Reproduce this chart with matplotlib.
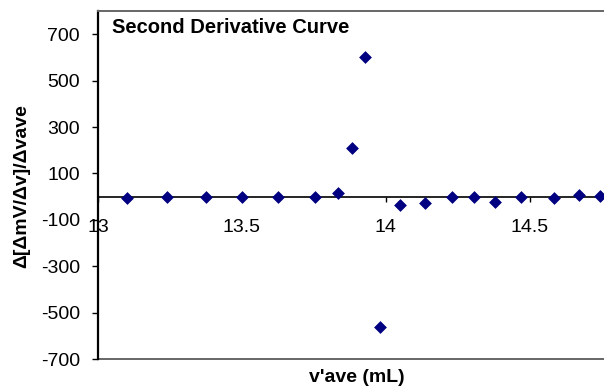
import numpy as np
import matplotlib
matplotlib.use('Agg')  # no display
import matplotlib.pyplot as plt

# values
v_ave = [13.10, 13.24, 13.375, 13.50, 13.625, 13.755, 13.835, 13.881, 13.927,
         13.981, 14.05, 14.135, 14.23, 14.305, 14.38, 14.47, 14.585, 14.67, 14.745]
d2 = [-7, -1, -1, -1, -1, -1, 15, 208, 600,
      -564, -35, -27, -1, -1, -22, 0, -7, 8, 2]
x_ticks = [13, 13.5, 14, 14.5]
x_tick_labels = ['13', '13.5', '14', '14.5']
y_ticks = [-700, -500, -300, -100, 100, 300, 500, 700]

plt.rcParams['font.family'] = ['Liberation Sans', 'DejaVu Sans']
plt.rcParams['axes.unicode_minus'] = False  # plain hyphen like Excel

W, H = 604, 387
fig = plt.figure(figsize=(W / 100, H / 100), dpi=100)
# plot area runs slightly past the right edge, like the cropped Excel chart
ax = fig.add_axes([98 / W, 1 - 359 / H, (616 - 98) / W, (359 - 11) / H])

ax.scatter(v_ave, d2, marker='D', s=36, color='#000080', edgecolors='#000080',
           linewidths=0.5, zorder=3, clip_on=False)

ax.set_xlim(13, 14.8)
ax.set_ylim(-700, 800)
ax.set_xticks(x_ticks)
ax.set_xticklabels(x_tick_labels)
ax.set_yticks(y_ticks)

# x axis sits on y = 0
ax.spines['bottom'].set_position(('data', 0))
ax.spines['bottom'].set_color('black')
ax.spines['bottom'].set_linewidth(1.2)
ax.spines['left'].set_color('black')
ax.spines['left'].set_linewidth(1.6)
ax.spines['top'].set_color('#666666')
ax.spines['top'].set_linewidth(1.4)
ax.spines['right'].set_visible(False)
ax.axhline(-700, color='#666666', lw=1.4, clip_on=False)

ax.tick_params(axis='x', direction='out', length=3.8, width=1, pad=12.5,
               labelsize=14, colors='black')
ax.tick_params(axis='y', direction='out', length=4, width=1, pad=9,
               labelsize=14, colors='black')

fig.text(112 / W, 1 - 33 / H, 'Second Derivative Curve', fontsize=14.5,
         fontweight='bold', ha='left', va='baseline')
fig.text(357 / W, 1 - 377 / H, "v'ave (mL)", fontsize=14, fontweight='bold',
         ha='center', va='center')
fig.text(22 / W, 1 - 186 / H, 'Δ[ΔmV/Δv]/Δvave', fontsize=14, fontweight='bold',
         rotation=90, ha='center', va='center')

fig.savefig('out.png', dpi=100)
